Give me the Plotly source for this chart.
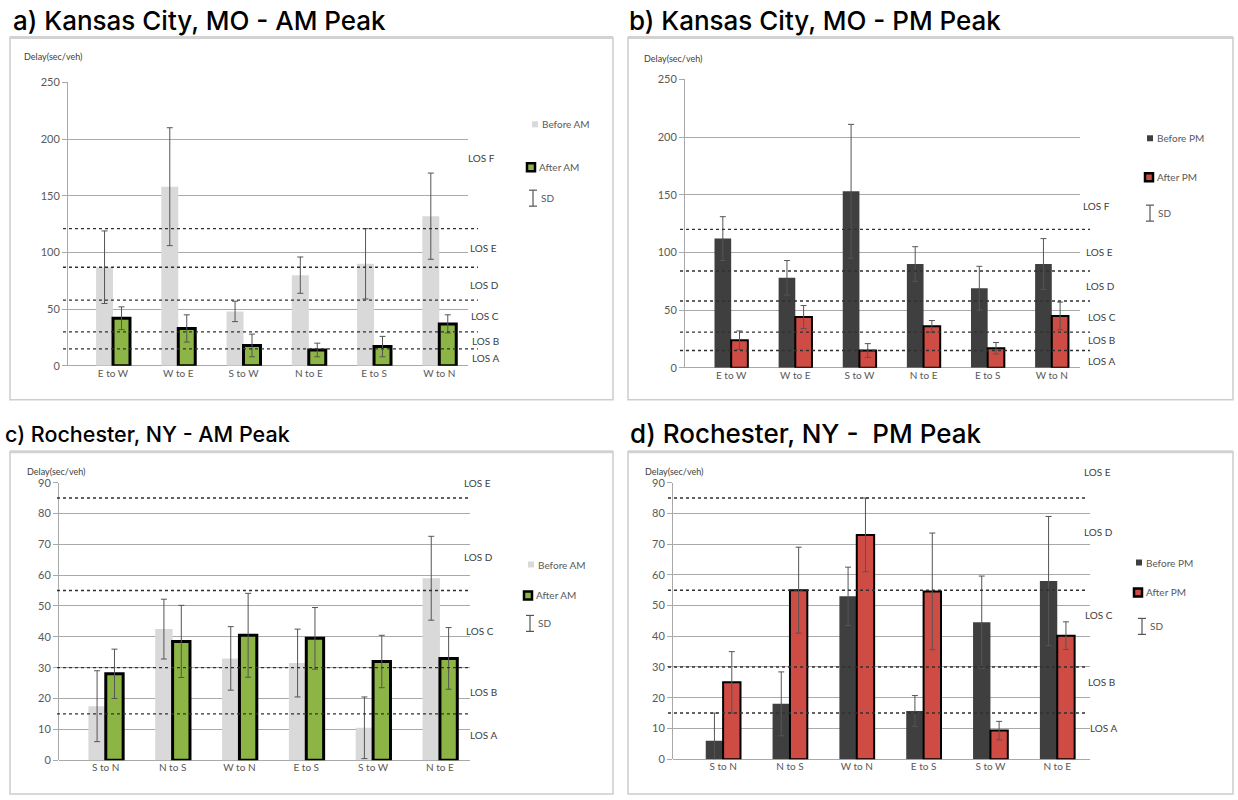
import plotly.graph_objects as go

W, H = 1238, 800

# ---- data ----
kc_dirs = ["E to W", "W to E", "S to W", "N to E", "E to S", "W to N"]
kc_am_before = [87, 158, 48, 80, 90, 132]
kc_am_before_sd = [32, 52, 9, 16, 31, 38]
kc_am_after = [42, 33, 18, 14, 17, 37]
kc_am_after_sd = [10, 12, 10, 6, 9, 8]
kc_pm_before = [112, 78, 153, 90, 69, 90]
kc_pm_before_sd = [19, 15, 58, 15, 19, 22]
kc_pm_after = [24, 44, 15, 36, 17, 45]
kc_pm_after_sd = [8, 10, 6, 5, 5, 12]

roc_dirs = ["S to N", "N to S", "W to N", "E to S", "S to W", "N to E"]
roc_am_before = [17.5, 42.5, 33, 31.5, 10.5, 59]
roc_am_before_sd = [11.5, 9.7, 10.3, 11, 10, 13.6]
roc_am_after = [28, 38.5, 40.5, 39.5, 32, 33]
roc_am_after_sd = [8, 11.7, 13.6, 10, 8.5, 10]
roc_pm_before = [6, 18, 53, 15.7, 44.6, 58]
roc_pm_before_sd = [9, 10.4, 9.5, 5, 15, 21]
roc_pm_after = [25, 55, 73, 54.6, 9.3, 40.2]
roc_pm_after_sd = [10, 14, 12, 19, 3, 4.5]

kc_am_los = [15, 30, 58, 87, 121]
kc_pm_los = [15, 31, 58, 84, 120]
roc_los = [15, 30, 55, 85]

los_names_kc = ["LOS A", "LOS B", "LOS C", "LOS D", "LOS E", "LOS F"]
los_names_roc = ["LOS A", "LOS B", "LOS C", "LOS D", "LOS E"]

GRAY_LIGHT = "#d9d9d9"
GREEN = "#8db546"
DARK = "#3f3f3f"
RED = "#cf4c45"
TXT = "#595959"
FONT = "Lato"
TITLE_FONT = "Inter"


def px(x):
    return x / W


def py(y):
    # page capture comes out slightly squeezed vertically, so pre-stretch
    y = (y - 6.5) / 0.9855
    return min(1.0, max(0.0, 1 - y / H))


# panel layouts (pixel positions on the 1238x800 canvas)
panels = [
    dict(title="a) Kansas City, MO - AM Peak", tsize=26, tpos=(11, 20), frame=(10, 37, 613, 400),
         xd=(68, 468), yd=(366, 82), xr=[-0.69, 5.44], yr=[0, 250], dtick=50,
         cats=kc_dirs, before=kc_am_before, bsd=kc_am_before_sd,
         after=kc_am_after, asd=kc_am_after_sd, los=kc_am_los, names=los_names_kc,
         laby=[7, 22, 44, 71, 104, 183], labx=[470, 470, 469, 468, 468, 466],
         line=(63, 478), bcol=GRAY_LIGHT, acol=GREEN, alw=3,
         leg=("Before AM", "After AM"), legpos=(535, 124, 531, 167, 533, 198),
         ylab=(22, 56)),
    dict(title="b) Kansas City, MO - PM Peak", tsize=26, tpos=(627, 20), frame=(628, 37, 1233, 400),
         xd=(685, 1080), yd=(368, 79), xr=[-0.72, 5.44], yr=[0, 250], dtick=50,
         cats=kc_dirs, before=kc_pm_before, bsd=kc_pm_before_sd,
         after=kc_pm_after, asd=kc_pm_after_sd, los=kc_pm_los, names=los_names_kc,
         laby=[6, 24, 44, 71, 100, 140], labx=[1086, 1086, 1086, 1084, 1084, 1081],
         line=(680, 1090), bcol=DARK, acol=RED, alw=2,
         leg=("Before PM", "After PM"), legpos=(1150, 138, 1149, 177, 1150, 213),
         ylab=(642, 58)),
    dict(title="c) Rochester, NY - AM Peak", tsize=21.5, tpos=(3, 434), frame=(10, 452, 613, 797),
         xd=(59, 470), yd=(761, 483), xr=[-0.70, 5.45], yr=[0, 90], dtick=10,
         cats=roc_dirs, before=roc_am_before, bsd=roc_am_before_sd,
         after=roc_am_after, asd=roc_am_after_sd, los=roc_los, names=los_names_roc,
         laby=[8, 22, 42, 66, 90], labx=[468, 468, 464, 462, 462],
         line=(57, 468), bcol=GRAY_LIGHT, acol=GREEN, alw=3,
         leg=("Before AM", "After AM"), legpos=(531, 565, 528, 596, 530, 624),
         ylab=(25, 472)),
    dict(title="d) Rochester, NY - \u00a0PM Peak", tsize=26, tpos=(628, 434), frame=(628, 452, 1233, 797),
         xd=(673, 1090), yd=(760, 483), xr=[-0.75, 5.49], yr=[0, 90], dtick=10,
         cats=roc_dirs, before=roc_pm_before, bsd=roc_pm_before_sd,
         after=roc_pm_after, asd=roc_pm_after_sd, los=roc_los, names=los_names_roc,
         laby=[10, 25, 47, 74, 93.5], labx=[1088, 1086, 1083, 1082, 1082],
         line=(668, 1085), bcol=DARK, acol=RED, alw=2,
         leg=("Before PM", "After PM"), legpos=(1139, 563, 1138, 593, 1142, 627),
         ylab=(643, 472)),
]

fig = go.Figure()
shapes = []
annotations = []
layout_axes = {}

for i, p in enumerate(panels, start=1):
    sfx = "" if i == 1 else str(i)
    xa, ya = "x" + sfx, "y" + sfx

    err = dict(type="data", thickness=1, width=3, color="#555555")
    fig.add_trace(go.Bar(
        x=p["cats"], y=p["before"], xaxis=xa, yaxis=ya,
        marker=dict(color=p["bcol"], line=dict(width=0)),
        error_y=dict(array=p["bsd"], **err), name=p["leg"][0], showlegend=False,
        offsetgroup="b",
    ))
    fig.add_trace(go.Bar(
        x=p["cats"], y=p["after"], xaxis=xa, yaxis=ya,
        marker=dict(color=p["acol"], line=dict(color="black", width=p["alw"])),
        error_y=dict(array=p["asd"], **err), name=p["leg"][1], showlegend=False,
        offsetgroup="a",
    ))

    layout_axes["xaxis" + sfx] = dict(
        domain=[px(p["xd"][0]), px(p["xd"][1])], anchor=ya, range=p["xr"],
        showgrid=False, showline=False, zeroline=False, ticks="",
        tickfont=dict(family=FONT, size=10, color=TXT), fixedrange=True,
    )
    layout_axes["yaxis" + sfx] = dict(
        domain=[py(p["yd"][0]), py(p["yd"][1])], anchor=xa, range=p["yr"],
        dtick=p["dtick"], showgrid=True, gridcolor="#a9a9a9", gridwidth=1,
        zeroline=True, zerolinecolor="#a9a9a9", zerolinewidth=1,
        showline=True, linecolor="#a9a9a9", linewidth=1,
        ticks="outside", ticklen=5, tickcolor="#a9a9a9",
        tickfont=dict(family=FONT, size=11, color=TXT), fixedrange=True,
    )

    # panel frame
    x0, y0, x1, y1 = p["frame"]
    shapes.append(dict(type="rect", xref="paper", yref="paper",
                       x0=px(x0), x1=px(x1), y0=py(y0), y1=py(y1),
                       line=dict(color="#cdcdcd", width=1.5), layer="below"))
    shapes.append(dict(type="line", xref="paper", yref="paper",
                       x0=px(x0), x1=px(x1), y0=py(y0), y1=py(y0),
                       line=dict(color="#d2d2d2", width=3), layer="below"))

    # LOS threshold lines
    for v in p["los"]:
        shapes.append(dict(type="line", xref="paper", yref=ya,
                           x0=px(p["line"][0]), x1=px(p["line"][1]), y0=v, y1=v,
                           line=dict(color="#303030", width=1.4, dash="dot"),
                           layer="above"))

    # LOS labels (placed in paper space so labels above the axis range still show)
    r0, r1 = p["yr"]
    for name, ly, lx in zip(p["names"], p["laby"], p["labx"]):
        ypix = p["yd"][0] + (ly - r0) / (r1 - r0) * (p["yd"][1] - p["yd"][0])
        annotations.append(dict(text=name, xref="paper", yref="paper", x=px(lx), y=py(ypix),
                                xanchor="left", yanchor="middle", showarrow=False,
                                font=dict(family=FONT, size=10, color="#404040")))

    # title
    annotations.append(dict(text=p["title"], xref="paper", yref="paper",
                            x=px(p["tpos"][0]), y=py(p["tpos"][1]),
                            xanchor="left", yanchor="middle", showarrow=False,
                            font=dict(family=TITLE_FONT, size=p["tsize"], color="black",
                                      weight=500)))
    # axis caption
    annotations.append(dict(text="Delay(sec/veh)", xref="paper", yref="paper",
                            x=px(p["ylab"][0]), y=py(p["ylab"][1]),
                            xanchor="left", yanchor="middle", showarrow=False,
                            font=dict(family=FONT, size=9, color="#404040")))

    # hand-drawn legend
    bx, by, ax_, ay_, sx, sy = p["legpos"]
    shapes.append(dict(type="rect", xref="paper", yref="paper",
                       x0=px(bx - 3), x1=px(bx + 3), y0=py(by - 3), y1=py(by + 3),
                       fillcolor=p["bcol"], line=dict(width=0)))
    annotations.append(dict(text=p["leg"][0], xref="paper", yref="paper",
                            x=px(bx + 5), y=py(by), xanchor="left", yanchor="middle",
                            showarrow=False, font=dict(family=FONT, size=10, color=TXT)))
    shapes.append(dict(type="rect", xref="paper", yref="paper",
                       x0=px(ax_ - 4), x1=px(ax_ + 4), y0=py(ay_ - 4), y1=py(ay_ + 4),
                       fillcolor=p["acol"], line=dict(color="black", width=2.5)))
    annotations.append(dict(text=p["leg"][1], xref="paper", yref="paper",
                            x=px(ax_ + 6), y=py(ay_), xanchor="left", yanchor="middle",
                            showarrow=False, font=dict(family=FONT, size=10, color=TXT)))
    for seg in [(sx, sy - 8, sx, sy + 8), (sx - 4, sy - 8, sx + 4, sy - 8),
                (sx - 4, sy + 8, sx + 4, sy + 8)]:
        shapes.append(dict(type="line", xref="paper", yref="paper",
                           x0=px(seg[0]), y0=py(seg[1]), x1=px(seg[2]), y1=py(seg[3]),
                           line=dict(color="#555555", width=1.2)))
    annotations.append(dict(text="SD", xref="paper", yref="paper",
                            x=px(sx + 6), y=py(sy), xanchor="left", yanchor="middle",
                            showarrow=False, font=dict(family=FONT, size=10, color=TXT)))

fig.update_layout(
    width=W, height=H, margin=dict(l=0, r=0, t=0, b=0),
    paper_bgcolor="white", plot_bgcolor="white",
    barmode="group", bargap=0.48, bargroupgap=0,
    shapes=shapes, annotations=annotations, showlegend=False,
    **layout_axes,
)

# pin the plot to the top-left corner of the page so nothing shifts it
pin = ("document.body.style.margin='0';"
       "var d=document.getElementById('{plot_id}');"
       "d.style.position='absolute';d.style.left='0';d.style.top='0';")
fig.write_html("out.html", post_script=pin, config={"displayModeBar": False})
